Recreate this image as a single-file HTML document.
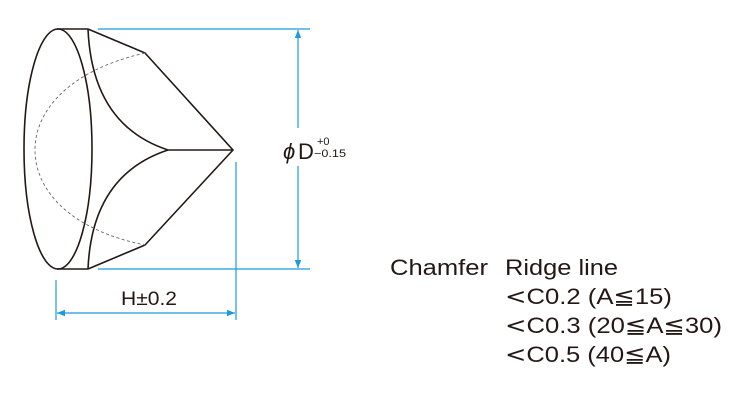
<!DOCTYPE html>
<html><head><style>html,body{margin:0;padding:0;background:#fff;}svg{display:block}</style></head>
<body>
<svg width="750" height="400" viewBox="0 0 750 400" xmlns="http://www.w3.org/2000/svg">
<defs>
<marker id="a" viewBox="0 0 10 10" refX="10" refY="5" markerWidth="10" markerHeight="8" orient="auto-start-reverse" markerUnits="userSpaceOnUse"><path d="M0,1 L10,5 L0,9 Z" fill="#1a9be0"/></marker>
</defs>
<g fill="none" stroke="#231815" stroke-width="1.6" stroke-linejoin="round">
<ellipse cx="58" cy="149" rx="34" ry="120"/>
<line x1="57" y1="29" x2="88" y2="29"/>
<line x1="57" y1="269" x2="88" y2="269"/>
<path d="M88,29 Q92,125 168,150 L233,150"/>
<path d="M168,150 Q92,175 88,269"/>
<path d="M88,29 L145,53 L233,150 L145,245 L88,269"/>
</g>
<path d="M145,53 C70,70 35,110 35,150 C35,190 70,230 145,245" fill="none" stroke="#666" stroke-width="0.9" stroke-dasharray="3,2.5"/>
<g stroke="#1a9be0" stroke-width="1.2" fill="none">
<line x1="98" y1="29" x2="310" y2="29"/>
<line x1="98" y1="269" x2="310" y2="269"/>
<line x1="298" y1="30" x2="298" y2="128" marker-start="url(#a)"/>
<line x1="298" y1="166" x2="298" y2="268" marker-end="url(#a)"/>
<line x1="236" y1="162" x2="236" y2="320"/>
<line x1="56" y1="280" x2="56" y2="320"/>
<line x1="57" y1="313" x2="235" y2="313" marker-start="url(#a)" marker-end="url(#a)"/>
</g>
<g font-family="Liberation Sans, DejaVu Sans, sans-serif" fill="#231815">
<text x="121" y="305" font-size="19" textLength="56" lengthAdjust="spacingAndGlyphs">H±0.2</text>
<text x="283" y="159" font-size="22" font-style="italic">ϕ</text>
<text x="298" y="159" font-size="22">D</text>
<text x="317" y="145" font-size="11">+0</text>
<text x="314" y="157" font-size="11" textLength="32" lengthAdjust="spacingAndGlyphs">−0.15</text>
<g font-size="22">
<text x="390" y="275" textLength="98" lengthAdjust="spacingAndGlyphs">Chamfer</text>
<text x="505" y="275" textLength="113" lengthAdjust="spacingAndGlyphs">Ridge line</text>
<text x="505" y="304" textLength="167" lengthAdjust="spacingAndGlyphs"><tspan font-family="DejaVu Sans, sans-serif">&lt;</tspan>C0.2 (A≦15)</text>
<text x="505" y="333" textLength="217" lengthAdjust="spacingAndGlyphs"><tspan font-family="DejaVu Sans, sans-serif">&lt;</tspan>C0.3 (20≦A≦30)</text>
<text x="505" y="362" textLength="166" lengthAdjust="spacingAndGlyphs"><tspan font-family="DejaVu Sans, sans-serif">&lt;</tspan>C0.5 (40≦A)</text>
</g>
</g>
</svg>
</body></html>
